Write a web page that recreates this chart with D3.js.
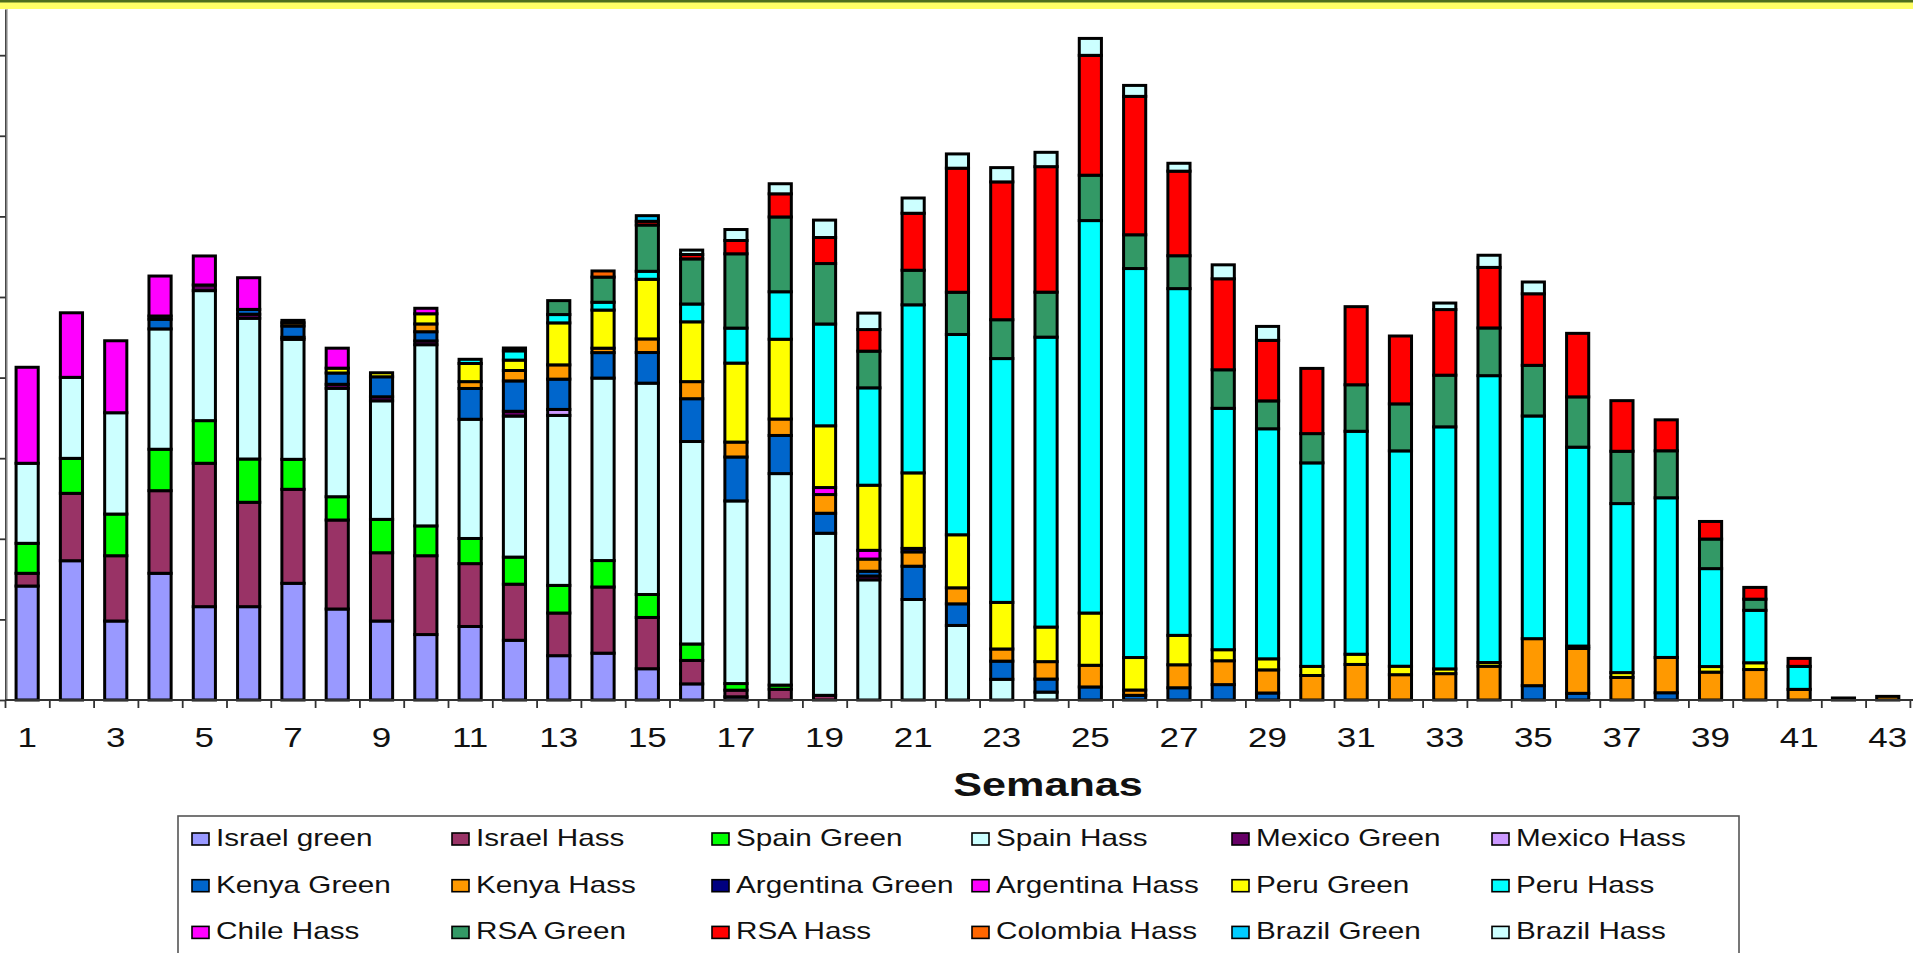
<!DOCTYPE html>
<html><head><meta charset="utf-8">
<script src="https://cdnjs.cloudflare.com/ajax/libs/d3/7.8.5/d3.min.js"></script>
<style>body{margin:0;background:#fff;overflow:hidden}svg{display:block}</style>
</head><body>
<svg id="c" width="1913" height="953"></svg>
<script>
// ---------- DATA ----------
const weeks = d3.range(1, 44);
const tickLabels = weeks.filter(w => w % 2 === 1);
const xTitle = "Semanas";

const israelGreen   = [1414,1728,980,1572,1158,1158,1448,1129,980,812, 912,741,550,581,388,200,40,0,0,0, 0,0,0,0,0,0,0,0,0,0, 0,0,0,0,0,0,0,0,0,0, 0,0,0];
const israelHass    = [158,836,810,1025,1779,1295,1166,1104,847,978, 780,696,529,821,636,291,82,134,58,0, 0,0,0,0,0,0,0,0,0,0, 0,0,0,0,0,0,0,0,0,0, 0,0,0];
const spainGreen    = [372,434,517,514,529,537,372,289,414,370, 312,336,343,328,285,204,82,51,0,0, 0,0,0,0,0,0,0,0,0,0, 0,0,0,0,0,0,0,0,0,0, 0,0,0];
const spainHass     = [993,1005,1257,1493,1613,1746,1489,1345,1471,2248, 1479,1750,2109,2264,2622,2512,2266,2624,2011,1491, 1247,925,257,98,0,0,0,0,0,0, 0,0,0,0,0,0,0,0,0,0, 0,0,0];
const mexicoGreen   = [0,0,0,0,70,50,25,50,50,47, 0,59,0,0,0,0,0,0,0,47, 0,0,0,0,0,0,0,0,0,0, 0,0,0,0,0,0,0,0,0,0, 0,25,0];
const mexicoHass    = [0,0,0,0,0,0,0,0,0,0, 0,0,74,0,0,0,0,0,0,0, 0,0,0,0,0,0,0,0,0,0, 0,0,0,0,0,0,0,0,0,0, 0,0,0];
const kenyaGreen    = [0,0,0,120,0,60,140,140,248,114, 382,377,376,316,380,531,545,473,248,60, 413,268,225,162,162,58,152,191,87,0, 0,0,0,0,178,83,0,90,0,0, 0,0,0];
const kenyaHass     = [0,0,0,0,0,0,40,0,0,97, 85,129,177,55,169,212,185,204,232,151, 178,199,151,216,269,66,285,296,287,304, 441,314,327,419,583,556,280,438,346,378, 132,0,45];
const argentinaGreen= [0,0,0,40,0,0,30,0,0,0, 0,0,0,0,0,0,0,0,0,0, 43,0,0,0,0,0,0,0,0,0, 0,0,0,0,0,0,0,0,0,0, 0,0,0];
const argentinaHass = [0,0,0,0,0,0,0,0,0,0, 0,0,0,0,0,0,0,0,87,108, 0,0,0,0,0,0,0,0,0,0, 0,0,0,0,0,0,0,0,0,0, 0,0,0];
const peruGreen     = [0,0,0,0,0,0,0,60,50,126, 225,129,521,473,740,742,980,990,766,808, 937,658,578,429,648,403,365,137,137,113, 127,105,59,46,0,30,60,0,69,84, 0,0,0];
const peruHass      = [0,0,0,0,0,0,0,0,0,0, 52,115,103,97,99,221,434,589,1263,1208, 2085,2485,3025,3597,4869,4826,4302,2995,2854,2525, 2766,2672,3003,3559,2763,2468,2097,1981,1215,651, 285,0,0];
const chileHass     = [1191,801,893,496,360,393,0,248,0,68, 0,0,0,0,0,0,0,0,0,0, 0,0,0,0,0,0,0,0,0,0, 0,0,0,0,0,0,0,0,0,0, 0,0,0];
const rsaGreen      = [0,0,0,0,0,0,0,0,0,0, 0,35,173,312,574,560,922,928,750,455, 429,524,482,558,563,419,408,478,346,363, 577,583,641,592,628,624,649,583,367,138, 0,0,0];
const rsaHass       = [0,0,0,0,0,0,0,0,0,0, 0,0,0,0,46,54,165,287,323,268, 707,1539,1710,1557,1487,1717,1049,1129,751,809, 969,842,814,751,888,788,628,384,218,146, 99,0,0];
const colombiaHass  = [0,0,0,0,0,0,0,0,0,0, 0,0,0,76,0,0,0,0,0,0, 0,0,0,0,0,0,0,0,0,0, 0,0,0,0,0,0,0,0,0,0, 0,0,0];
const brazilGreen   = [0,0,0,0,0,0,0,0,0,0, 0,0,0,0,70,0,0,0,0,0, 0,0,0,0,0,0,0,0,0,0, 0,0,0,0,0,0,0,0,0,0, 0,0,0];
const brazilHass    = [0,0,0,0,0,0,0,0,0,0, 0,0,0,0,0,55,136,125,216,204, 189,177,177,178,210,136,98,173,173,0, 0,0,81,151,146,0,0,0,0,0, 0,0,0];

const seriesNames = ["Israel green","Israel Hass","Spain Green","Spain Hass","Mexico Green","Mexico Hass",
  "Kenya Green","Kenya Hass","Argentina Green","Argentina Hass","Peru Green","Peru Hass",
  "Chile Hass","RSA Green","RSA Hass","Colombia Hass","Brazil Green","Brazil Hass"];
const seriesValues = [israelGreen,israelHass,spainGreen,spainHass,mexicoGreen,mexicoHass,
  kenyaGreen,kenyaHass,argentinaGreen,argentinaHass,peruGreen,peruHass,
  chileHass,rsaGreen,rsaHass,colombiaHass,brazilGreen,brazilHass];
const seriesColors = ["#9999FF","#993366","#00FF00","#CCFFFF","#660066","#CC99FF",
  "#0066CC","#FF9900","#000080","#FF00FF","#FFFF00","#00FFFF",
  "#FF00FF","#339966","#FF0000","#FF6600","#00CCFF","#CCFFFF"];

// ---------- LAYOUT ----------
const W = 1913, H = 953;
const FONT = "'Liberation Sans', Arial, sans-serif";
const svg = d3.select("#c");

// top banner
svg.append("rect").attr("x",0).attr("y",0).attr("width",W).attr("height",9).attr("fill","#FFFF66");
svg.append("rect").attr("x",0).attr("y",0).attr("width",W).attr("height",2.5).attr("fill","#4E6E1C");

const x0 = 5, step = 44.3, baseY = 700, topY = 9;
const x = d3.scaleBand().domain(weeks).range([x0, x0 + 43*step]).paddingInner(0.5).paddingOuter(0.25);
const xEdge = d3.scaleLinear().domain([0, 43]).range([x0, x0 + 43*step]);
const y = d3.scaleLinear().domain([0, 8573]).range([baseY, topY]);

const rows = weeks.map((w, i) => {
  const r = {week: w};
  seriesNames.forEach((n, j) => r[n] = seriesValues[j][i]);
  return r;
});
const stacked = d3.stack().keys(seriesNames)(rows);

// bars
const g = svg.append("g");
stacked.forEach((layer, j) => {
  g.append("g").attr("fill", seriesColors[j])
    .selectAll("rect").data(layer.filter(d => d[1] - d[0] > 0)).join("rect")
    .attr("x", d => x(d.data.week))
    .attr("width", x.bandwidth())
    .attr("y", d => y(d[1]))
    .attr("height", d => y(d[0]) - y(d[1]))
    .attr("stroke", "#000").attr("stroke-width", 3);
});

// y axis
const yAxis = svg.append("g").attr("transform", `translate(${x0+0.5},0)`)
  .call(d3.axisLeft(y).tickValues(d3.range(0, 9000, 1000)).tickSize(6).tickSizeOuter(0).tickFormat(""));
yAxis.selectAll("path,line").attr("stroke","#333").attr("stroke-width",1.8);
svg.append("line").attr("x1",x0+2.2).attr("x2",x0+2.2).attr("y1",topY).attr("y2",baseY)
  .attr("stroke","#bbb").attr("stroke-width",1.5);

// x axis ticks at boundaries
const xAxisEdges = svg.append("g").attr("transform", `translate(0,${baseY})`)
  .call(d3.axisBottom(xEdge).tickValues(d3.range(0, 44)).tickSize(8).tickSizeOuter(0).tickFormat(""));
xAxisEdges.select("path").attr("d", `M${x0},0H${W}`);
xAxisEdges.selectAll("path,line").attr("stroke","#333").attr("stroke-width",1.8);

// x labels
const xAxisLab = svg.append("g").attr("transform", `translate(0,${baseY})`)
  .call(d3.axisBottom(x).tickValues(tickLabels).tickSize(0).tickPadding(27));
xAxisLab.select("path").remove();
xAxisLab.selectAll("text").attr("font-family", FONT).attr("font-size", 28).attr("fill","#111")
  .attr("transform","scale(1.25,1)");

// x title
svg.append("text").attr("transform","translate(1048,796) scale(1.27,1)")
  .attr("text-anchor","middle").attr("font-family",FONT).attr("font-weight","bold")
  .attr("font-size",34).attr("fill","#111").text(xTitle);

// legend
const lg = svg.append("g");
lg.append("rect").attr("x",178).attr("y",816).attr("width",1561).attr("height",160)
  .attr("fill","#fff").attr("stroke","#555").attr("stroke-width",1.6);
seriesNames.forEach((n, j) => {
  const col = j % 6, row = Math.floor(j / 6);
  const lx = 192 + col*260, ly = 846 + row*46.7;
  lg.append("rect").attr("x",lx).attr("y",ly-13).attr("width",17).attr("height",12)
    .attr("fill",seriesColors[j]).attr("stroke","#000").attr("stroke-width",1.6);
  lg.append("text").attr("transform",`translate(${lx+24},${ly}) scale(1.29,1)`)
    .attr("font-family",FONT).attr("font-size",23).attr("fill","#111").text(n);
});
</script>
</body></html>
